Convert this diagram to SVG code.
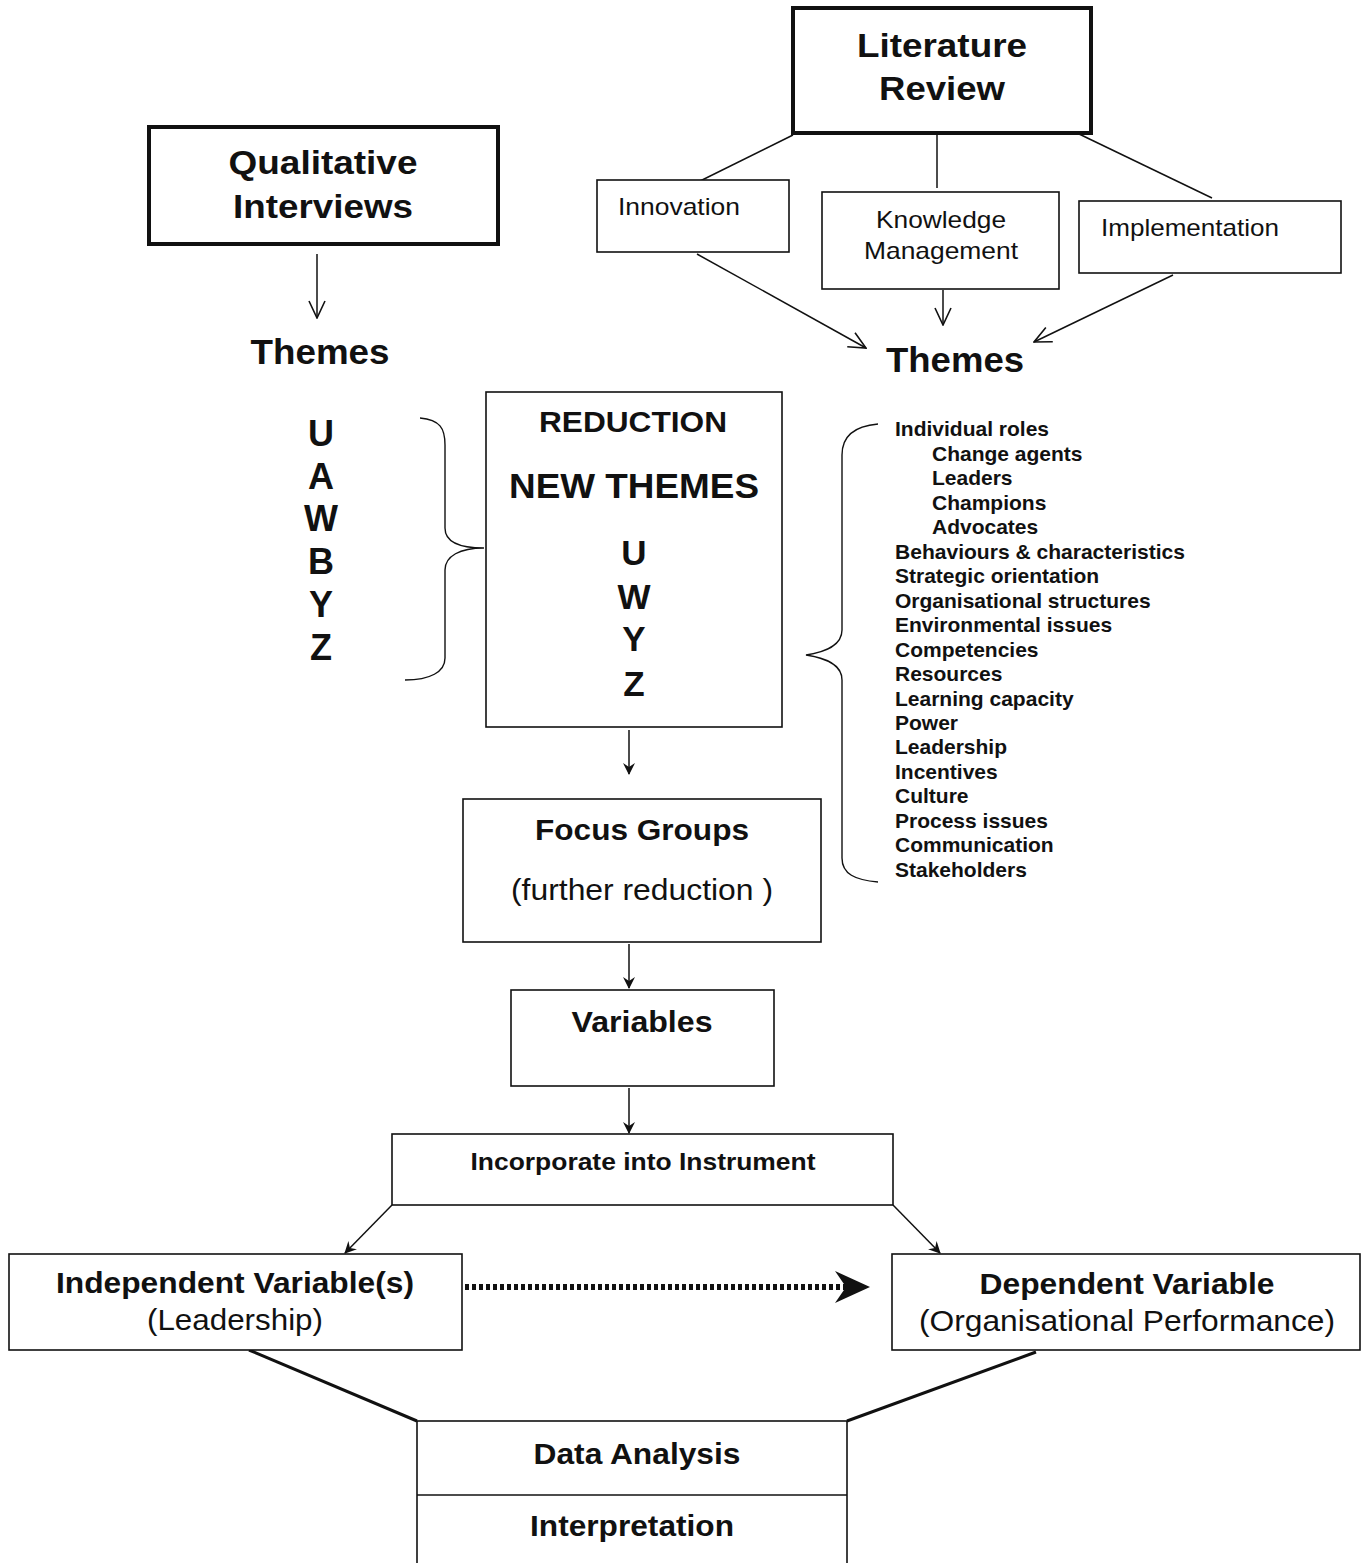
<svg xmlns="http://www.w3.org/2000/svg" width="1367" height="1563" viewBox="0 0 1367 1563">
<defs>
<style>
text{font-family:"Liberation Sans",Arial,sans-serif;fill:#111}
.b{font-weight:bold}
.box{fill:#fff;stroke:#111;stroke-width:1.6}
.thick{fill:#fff;stroke:#111;stroke-width:4}
.ln{fill:none;stroke:#111;stroke-width:1.5}
.hv{fill:none;stroke:#111;stroke-width:3}
.br{fill:none;stroke:#111;stroke-width:1.4}
.list{font-size:21px;font-weight:bold}
</style>
<marker id="ah" viewBox="0 0 12 12" refX="11" refY="6" markerWidth="12" markerHeight="12" markerUnits="userSpaceOnUse" orient="auto">
<path d="M0,0 L12,6 L0,12 L4,6 Z" fill="#111"/>
</marker>
<marker id="ao" viewBox="0 0 20 20" refX="19" refY="10" markerWidth="20" markerHeight="20" markerUnits="userSpaceOnUse" orient="auto">
<path d="M2,2 L19,10 L2,18" fill="none" stroke="#111" stroke-width="1.6"/>
</marker>
</defs>
<rect width="1367" height="1563" fill="#fff"/>

<g id="connectors">
<line class="ln" x1="793" y1="135" x2="690" y2="186"/>
<line class="ln" x1="937" y1="133" x2="937" y2="188"/>
<line class="ln" x1="1077" y1="133" x2="1212" y2="198"/>
<line class="ln" x1="697" y1="254" x2="866" y2="348" marker-end="url(#ao)"/>
<line class="ln" x1="943" y1="290" x2="943" y2="325" marker-end="url(#ao)"/>
<line class="ln" x1="1173" y1="275" x2="1034" y2="342" marker-end="url(#ao)"/>
<line class="ln" x1="317" y1="254" x2="317" y2="318" marker-end="url(#ao)"/>
<line class="ln" x1="629" y1="730" x2="629" y2="774" marker-end="url(#ah)"/>
<line class="ln" x1="629" y1="944" x2="629" y2="988" marker-end="url(#ah)"/>
<line class="ln" x1="629" y1="1088" x2="629" y2="1133" marker-end="url(#ah)"/>
<line class="ln" x1="392" y1="1205" x2="345" y2="1253" marker-end="url(#ah)"/>
<line class="ln" x1="893" y1="1205" x2="940" y2="1253" marker-end="url(#ah)"/>
<line x1="465" y1="1287" x2="848" y2="1287" stroke="#111" stroke-width="6" stroke-dasharray="4 3"/>
<path d="M835,1271 L870,1287 L835,1303 L846,1287 Z" fill="#111"/>
<line class="hv" x1="249" y1="1350" x2="417" y2="1421"/>
<line class="hv" x1="1036" y1="1352" x2="847" y2="1421"/>
<path class="br" d="M420,418 C440,420 445,428 445,445 L445,528 C445,542 460,548 484,548 C460,548 445,556 445,570 L445,658 C445,672 430,680 405,680"/>
<path class="br" d="M878,424 C855,426 842,436 842,455 L842,630 C842,646 825,652 806,655 C825,658 842,664 842,680 L842,858 C842,874 855,880 878,882"/>
</g>

<g id="literature-review">
<rect class="thick" x="793" y="8" width="298" height="125"/>
<text class="b" x="942" y="57" font-size="34" text-anchor="middle" textLength="170" lengthAdjust="spacingAndGlyphs">Literature</text>
<text class="b" x="942" y="100" font-size="34" text-anchor="middle" textLength="126" lengthAdjust="spacingAndGlyphs">Review</text>
</g>

<g id="qualitative-interviews">
<rect class="thick" x="149" y="127" width="349" height="117" stroke-width="3"/>
<text class="b" x="323" y="174" font-size="34" text-anchor="middle" textLength="189" lengthAdjust="spacingAndGlyphs">Qualitative</text>
<text class="b" x="323" y="218" font-size="34" text-anchor="middle" textLength="180" lengthAdjust="spacingAndGlyphs">Interviews</text>
</g>

<g id="themes-left">
<text class="b" x="320" y="364" font-size="35" text-anchor="middle" textLength="139" lengthAdjust="spacingAndGlyphs">Themes</text>
</g>

<g id="innovation">
<rect class="box" x="597" y="180" width="192" height="72"/>
<text x="618" y="215" font-size="24" textLength="122" lengthAdjust="spacingAndGlyphs">Innovation</text>
</g>

<g id="knowledge-management">
<rect class="box" x="822" y="192" width="237" height="97"/>
<text x="941" y="228" font-size="24" text-anchor="middle" textLength="130" lengthAdjust="spacingAndGlyphs">Knowledge</text>
<text x="941" y="259" font-size="24" text-anchor="middle" textLength="154" lengthAdjust="spacingAndGlyphs">Management</text>
</g>

<g id="implementation">
<rect class="box" x="1079" y="201" width="262" height="72"/>
<text x="1101" y="236" font-size="24" textLength="178" lengthAdjust="spacingAndGlyphs">Implementation</text>
</g>

<g id="themes-right">
<text class="b" x="955" y="372" font-size="35" text-anchor="middle" textLength="138" lengthAdjust="spacingAndGlyphs">Themes</text>
</g>

<g id="letters-left">
<text class="b" x="321" y="446" font-size="36" text-anchor="middle">U</text>
<text class="b" x="321" y="489" font-size="36" text-anchor="middle">A</text>
<text class="b" x="321" y="531" font-size="36" text-anchor="middle">W</text>
<text class="b" x="321" y="574" font-size="36" text-anchor="middle">B</text>
<text class="b" x="321" y="617" font-size="36" text-anchor="middle">Y</text>
<text class="b" x="321" y="660" font-size="36" text-anchor="middle">Z</text>
</g>

<g id="reduction">
<rect class="box" x="486" y="392" width="296" height="335"/>
<text class="b" x="633" y="432" font-size="29" text-anchor="middle" textLength="188" lengthAdjust="spacingAndGlyphs">REDUCTION</text>
<text class="b" x="634" y="498" font-size="35" text-anchor="middle" textLength="250" lengthAdjust="spacingAndGlyphs">NEW THEMES</text>
<text class="b" x="634" y="565" font-size="35" text-anchor="middle">U</text>
<text class="b" x="634" y="609" font-size="35" text-anchor="middle">W</text>
<text class="b" x="634" y="651" font-size="35" text-anchor="middle">Y</text>
<text class="b" x="634" y="696" font-size="35" text-anchor="middle">Z</text>
</g>

<g id="theme-list">
<text class="list" x="895" y="436">Individual roles</text>
<text class="list" x="932" y="461">Change agents</text>
<text class="list" x="932" y="485">Leaders</text>
<text class="list" x="932" y="510">Champions</text>
<text class="list" x="932" y="534">Advocates</text>
<text class="list" x="895" y="559" textLength="290" lengthAdjust="spacingAndGlyphs">Behaviours &amp; characteristics</text>
<text class="list" x="895" y="583">Strategic orientation</text>
<text class="list" x="895" y="608">Organisational structures</text>
<text class="list" x="895" y="632">Environmental issues</text>
<text class="list" x="895" y="657">Competencies</text>
<text class="list" x="895" y="681">Resources</text>
<text class="list" x="895" y="706">Learning capacity</text>
<text class="list" x="895" y="730">Power</text>
<text class="list" x="895" y="754">Leadership</text>
<text class="list" x="895" y="779">Incentives</text>
<text class="list" x="895" y="803">Culture</text>
<text class="list" x="895" y="828">Process issues</text>
<text class="list" x="895" y="852">Communication</text>
<text class="list" x="895" y="877">Stakeholders</text>
</g>

<g id="focus-groups">
<rect class="box" x="463" y="799" width="358" height="143"/>
<text class="b" x="642" y="840" font-size="29" text-anchor="middle" textLength="214" lengthAdjust="spacingAndGlyphs">Focus Groups</text>
<text x="642" y="900" font-size="29" text-anchor="middle" textLength="262" lengthAdjust="spacingAndGlyphs">(further reduction )</text>
</g>

<g id="variables">
<rect class="box" x="511" y="990" width="263" height="96"/>
<text class="b" x="642" y="1032" font-size="29" text-anchor="middle" textLength="141" lengthAdjust="spacingAndGlyphs">Variables</text>
</g>

<g id="incorporate">
<rect class="box" x="392" y="1134" width="501" height="71"/>
<text class="b" x="643" y="1170" font-size="24" text-anchor="middle" textLength="345" lengthAdjust="spacingAndGlyphs">Incorporate into Instrument</text>
</g>

<g id="independent">
<rect class="box" x="9" y="1254" width="453" height="96"/>
<text class="b" x="235" y="1293" font-size="30" text-anchor="middle" textLength="358" lengthAdjust="spacingAndGlyphs">Independent Variable(s)</text>
<text x="235" y="1330" font-size="30" text-anchor="middle" textLength="176" lengthAdjust="spacingAndGlyphs">(Leadership)</text>
</g>

<g id="dependent">
<rect class="box" x="892" y="1254" width="468" height="96"/>
<text class="b" x="1127" y="1294" font-size="30" text-anchor="middle" textLength="295" lengthAdjust="spacingAndGlyphs">Dependent Variable</text>
<text x="1127" y="1331" font-size="30" text-anchor="middle" textLength="416" lengthAdjust="spacingAndGlyphs">(Organisational Performance)</text>
</g>

<g id="data-analysis">
<rect class="box" x="417" y="1421" width="430" height="160"/>
<line class="ln" x1="417" y1="1495" x2="847" y2="1495"/>
<text class="b" x="637" y="1464" font-size="30" text-anchor="middle" textLength="207" lengthAdjust="spacingAndGlyphs">Data Analysis</text>
<text class="b" x="632" y="1536" font-size="30" text-anchor="middle" textLength="204" lengthAdjust="spacingAndGlyphs">Interpretation</text>
</g>
</svg>
